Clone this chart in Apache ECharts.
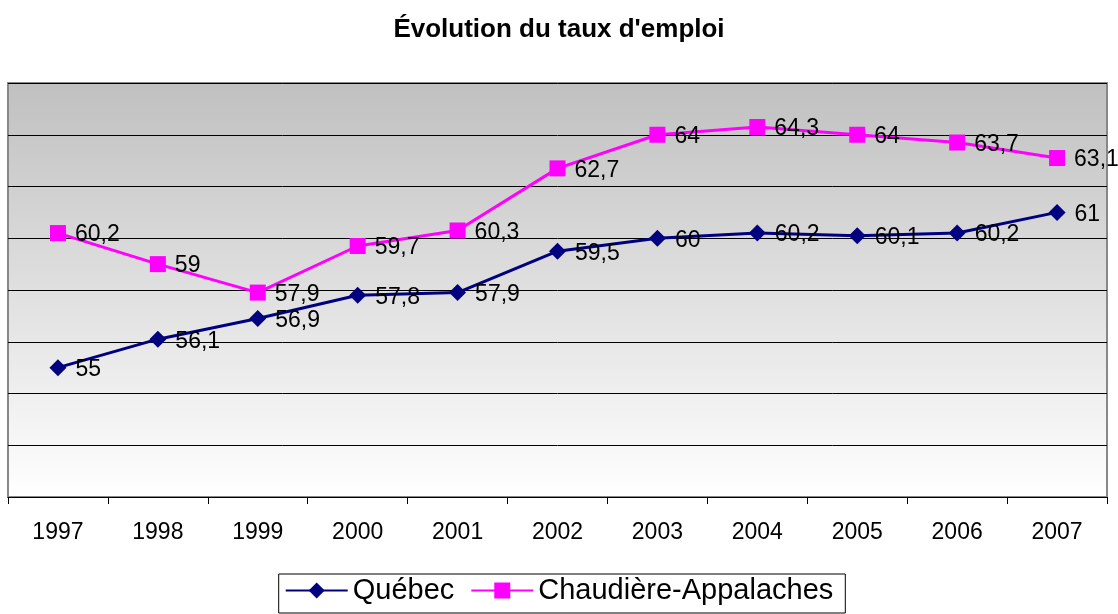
<!DOCTYPE html>
<html><head><meta charset="utf-8">
<script src="https://cdn.jsdelivr.net/npm/echarts@6/dist/echarts.min.js"></script>
<style>html,body{margin:0;padding:0;background:#fff}#c{width:1118px;height:614px}</style>
</head><body><div id="c"></div>
<script>
const categories = ['1997','1998','1999','2000','2001','2002','2003','2004','2005','2006','2007'];
const quebec = [55, 56.1, 56.9, 57.8, 57.9, 59.5, 60, 60.2, 60.1, 60.2, 61];
const chaudiere = [60.2, 59, 57.9, 59.7, 60.3, 62.7, 64, 64.3, 64, 63.7, 63.1];
const fmt = p => String(p.value).replace('.', ',');
const chart = echarts.init(document.getElementById('c'));
const lbl = {show:true, position:'right', distance:9, offset:[0,2], formatter:fmt, color:'#000', fontFamily:'Arial, Liberation Sans', fontSize:23};
chart.setOption({
  animation:false,
  title:{text:"Évolution du taux d'emploi", left:'center', top:12,
    textStyle:{fontFamily:'Arial, Liberation Sans', fontWeight:'bold', fontSize:26, color:'#000'}},
  grid:{left:8, right:11, top:83, bottom:117, show:true, borderColor:'#888', borderWidth:2,
    backgroundColor:new echarts.graphic.LinearGradient(0,0,0,1,[{offset:0,color:'#c0c0c0'},{offset:1,color:'#ffffff'}])},
  legend:{top:574, left:'center', itemWidth:62, itemHeight:20, itemGap:16, padding:[2,12,8,6],
    borderColor:'#000', borderWidth:1,
    textStyle:{fontFamily:'Arial, Liberation Sans', fontSize:29, color:'#000'},
    data:['Québec','Chaudière-Appalaches']},
  xAxis:{type:'category', data:categories, boundaryGap:true,
    axisLine:{lineStyle:{color:'#000', width:1}},
    axisTick:{show:true, length:7, lineStyle:{color:'#000'}},
    axisLabel:{margin:24, color:'#000', fontFamily:'Arial, Liberation Sans', fontSize:23}},
  yAxis:{type:'value', min:50, max:66, interval:2,
    axisLabel:{show:false}, axisLine:{show:false}, axisTick:{show:false},
    splitLine:{lineStyle:{color:'#000', width:1}}},
  series:[
    {name:'Québec', type:'line', data:quebec, symbol:'diamond', symbolSize:17,
      itemStyle:{color:'#000080'}, lineStyle:{color:'#000080', width:3}, label:lbl},
    {name:'Chaudière-Appalaches', type:'line', data:chaudiere, symbol:'rect', symbolSize:16,
      itemStyle:{color:'#ff00ff'}, lineStyle:{color:'#ff00ff', width:3}, label:lbl}
  ]
});
</script></body></html>
